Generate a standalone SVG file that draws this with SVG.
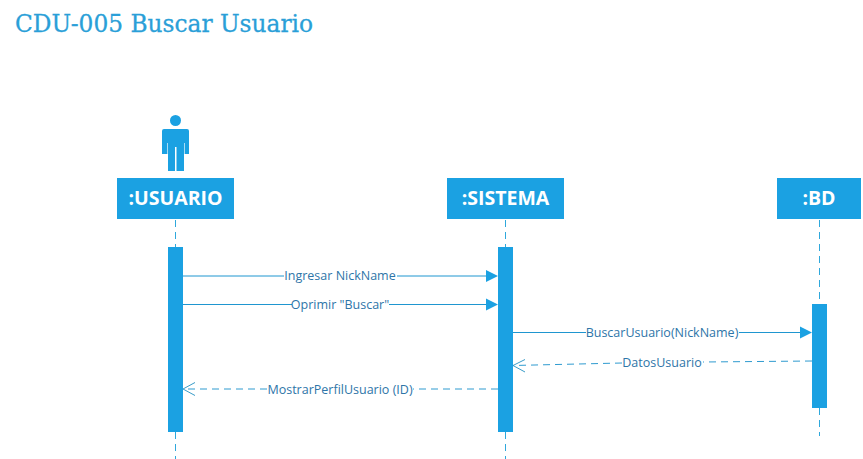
<svg xmlns="http://www.w3.org/2000/svg" width="863" height="459" viewBox="0 0 863 459">
<style>
.box{fill:#1ba1e2}
.hd{font:bold 19.500px "Open Sans","Noto Sans",sans-serif;fill:#fff;text-anchor:middle}
.lbl{font:12.500px "Open Sans","Noto Sans",sans-serif;fill:#2e75a8;text-anchor:middle}
.ttl{font:24px "DejaVu Serif","Liberation Serif",serif;fill:#2a9fd8;stroke:#2a9fd8;stroke-width:.3}
.life{stroke:#2fa8dc;stroke-width:1;stroke-dasharray:7 5;fill:none}
.msg{stroke:#1f96d0;stroke-width:1;fill:none}
.ret{stroke:#2f9bd0;stroke-width:1;stroke-dasharray:7 5;fill:none}
.head{fill:#1ba1e2}
.open{stroke:#3a9cc8;stroke-width:1;fill:none}
.gap{stroke:#a8dcf5;stroke-width:1;fill:none}
</style>
<rect width="863" height="459" fill="#fff"/>
<text class="ttl" x="15" y="32" textLength="298" lengthAdjust="spacingAndGlyphs">CDU-005 Buscar Usuario</text>
<g id="connectors">
<path class="life" d="M175.500 220V247M175.500 432V459M505.500 220V247M505.500 432V459M819.500 220V304M819.500 408V436"/>
<path class="msg" d="M183 276H284M397 276H487M183 304.500H292M389 304.500H487M513 332.500H586M739 332.500H800"/>
<path class="head" d="M486 270L498 276L486 282ZM486 298.500L498 304.500L486 310.500ZM800 326.500L812 332.500L800 338.500Z"/>
<path class="ret" d="M812 361L703 362M622 363L513 365.500M498 389H413M267 389H183"/>
<path class="open" d="M525 359.500L513 365.500L525 372M195 382.500L183 389L195 395.500"/>
<text class="lbl" x="340" y="280">Ingresar NickName</text>
<text class="lbl" x="340" y="308.500">Oprimir "Buscar"</text>
<text class="lbl" x="662" y="337">BuscarUsuario(NickName)</text>
<text class="lbl" x="662" y="367">DatosUsuario</text>
<text class="lbl" x="340" y="393.500">MostrarPerfilUsuario (ID)</text>
</g>
<g id="usuario">
<circle class="box" cx="175.500" cy="120.500" r="5.500"/>
<path class="box" d="M164 129H187Q189 129 189 131V154H184V171H176.500V147H175V171H168V154H162V131Q162 129 164 129Z"/>
<path class="gap" d="M167.500 143V154M184.500 143V154"/>
<rect class="box" x="117" y="178" width="117" height="41"/>
<text class="hd" x="175.500" y="204.500">:USUARIO</text>
<rect class="box" x="168" y="247" width="15" height="185"/>
</g>
<g id="sistema">
<rect class="box" x="447" y="178" width="117" height="41"/>
<text class="hd" x="505.500" y="204.500">:SISTEMA</text>
<rect class="box" x="498" y="247" width="15" height="185"/>
</g>
<g id="bd">
<rect class="box" x="777" y="178" width="84" height="41"/>
<text class="hd" x="819" y="204.500">:BD</text>
<rect class="box" x="812" y="304" width="15" height="104"/>
</g>
</svg>
